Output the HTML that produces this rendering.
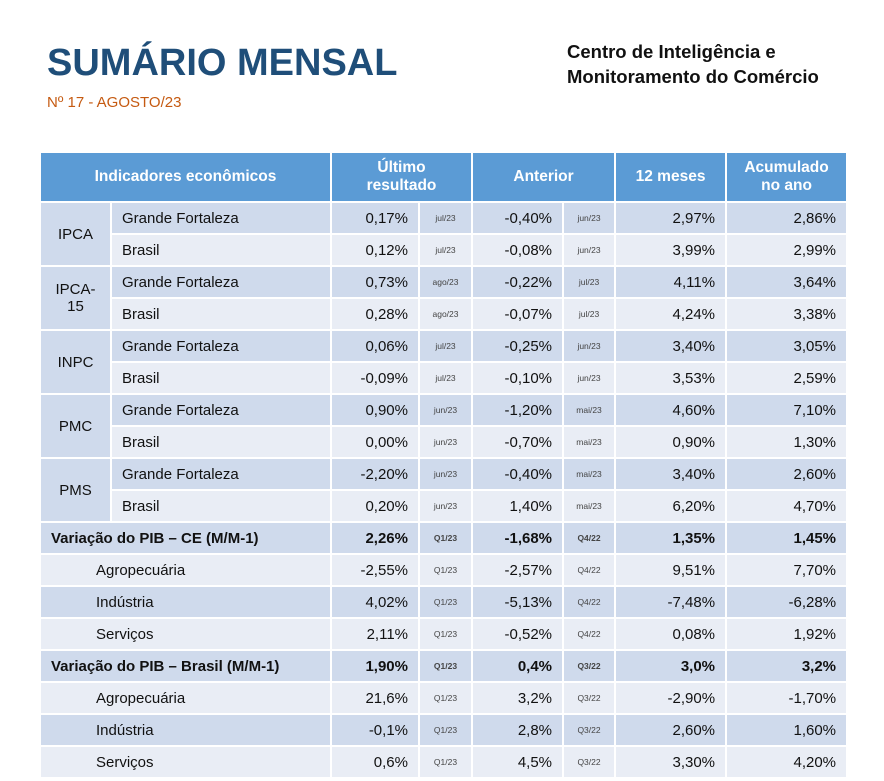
<!DOCTYPE html>
<html><head><meta charset="utf-8"><style>
body{margin:0;width:884px;height:781px;background:#fff;font-family:"Liberation Sans",sans-serif;position:relative;overflow:hidden}
.t{position:absolute;left:47px;top:42px;font-size:38px;font-weight:bold;color:#1f4e79;letter-spacing:0}
.s{position:absolute;left:47px;top:94px;font-size:15px;color:#c55a11}
.r{position:absolute;left:567px;top:39px;font-size:18.5px;font-weight:bold;color:#111;line-height:25px}
table{position:absolute;left:39px;top:151px;border-collapse:collapse;table-layout:fixed;width:807px}
td,th{border:2px solid #fff;padding:0;height:30px;font-size:15px;color:#111;white-space:nowrap}
th{background:#5b9bd5;color:#fff;font-size:15.5px;height:48px;line-height:18px}
.d td{background:#cfdaec}.l td{background:#e9edf5}
td.g{background:#cfdaec;text-align:center}
.n{text-align:right;padding-right:10px}
.m{font-size:8.5px;color:#444;text-align:center}
.b td{font-weight:bold}
.b td.m{font-size:8.5px}
.p{padding-left:10px}
.q{padding-left:55px}
</style></head><body>
<div class="t">SUMÁRIO MENSAL</div>
<div class="s">Nº 17 - AGOSTO/23</div>
<div class="r">Centro de Inteligência e<br>Monitoramento do Comércio</div>
<table>
<colgroup><col style="width:71px"><col style="width:220px"><col style="width:88px"><col style="width:53px"><col style="width:91px"><col style="width:52px"><col style="width:111px"><col style="width:121px"></colgroup>
<tr><th colspan="2">Indicadores econômicos</th><th colspan="2">Último<br>resultado</th><th colspan="2">Anterior</th><th>12 meses</th><th>Acumulado<br>no ano</th></tr>
<tr class="d"><td class="g" rowspan="2">IPCA</td><td class="p">Grande Fortaleza</td><td class="n">0,17%</td><td class="m">jul/23</td><td class="n">-0,40%</td><td class="m">jun/23</td><td class="n">2,97%</td><td class="n">2,86%</td></tr>
<tr class="l"><td class="p">Brasil</td><td class="n">0,12%</td><td class="m">jul/23</td><td class="n">-0,08%</td><td class="m">jun/23</td><td class="n">3,99%</td><td class="n">2,99%</td></tr>
<tr class="d"><td class="g" rowspan="2">IPCA-<br>15</td><td class="p">Grande Fortaleza</td><td class="n">0,73%</td><td class="m">ago/23</td><td class="n">-0,22%</td><td class="m">jul/23</td><td class="n">4,11%</td><td class="n">3,64%</td></tr>
<tr class="l"><td class="p">Brasil</td><td class="n">0,28%</td><td class="m">ago/23</td><td class="n">-0,07%</td><td class="m">jul/23</td><td class="n">4,24%</td><td class="n">3,38%</td></tr>
<tr class="d"><td class="g" rowspan="2">INPC</td><td class="p">Grande Fortaleza</td><td class="n">0,06%</td><td class="m">jul/23</td><td class="n">-0,25%</td><td class="m">jun/23</td><td class="n">3,40%</td><td class="n">3,05%</td></tr>
<tr class="l"><td class="p">Brasil</td><td class="n">-0,09%</td><td class="m">jul/23</td><td class="n">-0,10%</td><td class="m">jun/23</td><td class="n">3,53%</td><td class="n">2,59%</td></tr>
<tr class="d"><td class="g" rowspan="2">PMC</td><td class="p">Grande Fortaleza</td><td class="n">0,90%</td><td class="m">jun/23</td><td class="n">-1,20%</td><td class="m">mai/23</td><td class="n">4,60%</td><td class="n">7,10%</td></tr>
<tr class="l"><td class="p">Brasil</td><td class="n">0,00%</td><td class="m">jun/23</td><td class="n">-0,70%</td><td class="m">mai/23</td><td class="n">0,90%</td><td class="n">1,30%</td></tr>
<tr class="d"><td class="g" rowspan="2">PMS</td><td class="p">Grande Fortaleza</td><td class="n">-2,20%</td><td class="m">jun/23</td><td class="n">-0,40%</td><td class="m">mai/23</td><td class="n">3,40%</td><td class="n">2,60%</td></tr>
<tr class="l"><td class="p">Brasil</td><td class="n">0,20%</td><td class="m">jun/23</td><td class="n">1,40%</td><td class="m">mai/23</td><td class="n">6,20%</td><td class="n">4,70%</td></tr>
<tr class="d b"><td colspan="2" class="p">Variação do PIB – CE (M/M-1)</td><td class="n">2,26%</td><td class="m">Q1/23</td><td class="n">-1,68%</td><td class="m">Q4/22</td><td class="n">1,35%</td><td class="n">1,45%</td></tr>
<tr class="l"><td colspan="2" class="q">Agropecuária</td><td class="n">-2,55%</td><td class="m">Q1/23</td><td class="n">-2,57%</td><td class="m">Q4/22</td><td class="n">9,51%</td><td class="n">7,70%</td></tr>
<tr class="d"><td colspan="2" class="q">Indústria</td><td class="n">4,02%</td><td class="m">Q1/23</td><td class="n">-5,13%</td><td class="m">Q4/22</td><td class="n">-7,48%</td><td class="n">-6,28%</td></tr>
<tr class="l"><td colspan="2" class="q">Serviços</td><td class="n">2,11%</td><td class="m">Q1/23</td><td class="n">-0,52%</td><td class="m">Q4/22</td><td class="n">0,08%</td><td class="n">1,92%</td></tr>
<tr class="d b"><td colspan="2" class="p">Variação do PIB – Brasil (M/M-1)</td><td class="n">1,90%</td><td class="m">Q1/23</td><td class="n">0,4%</td><td class="m">Q3/22</td><td class="n">3,0%</td><td class="n">3,2%</td></tr>
<tr class="l"><td colspan="2" class="q">Agropecuária</td><td class="n">21,6%</td><td class="m">Q1/23</td><td class="n">3,2%</td><td class="m">Q3/22</td><td class="n">-2,90%</td><td class="n">-1,70%</td></tr>
<tr class="d"><td colspan="2" class="q">Indústria</td><td class="n">-0,1%</td><td class="m">Q1/23</td><td class="n">2,8%</td><td class="m">Q3/22</td><td class="n">2,60%</td><td class="n">1,60%</td></tr>
<tr class="l"><td colspan="2" class="q">Serviços</td><td class="n">0,6%</td><td class="m">Q1/23</td><td class="n">4,5%</td><td class="m">Q3/22</td><td class="n">3,30%</td><td class="n">4,20%</td></tr>
</table>
</body></html>
